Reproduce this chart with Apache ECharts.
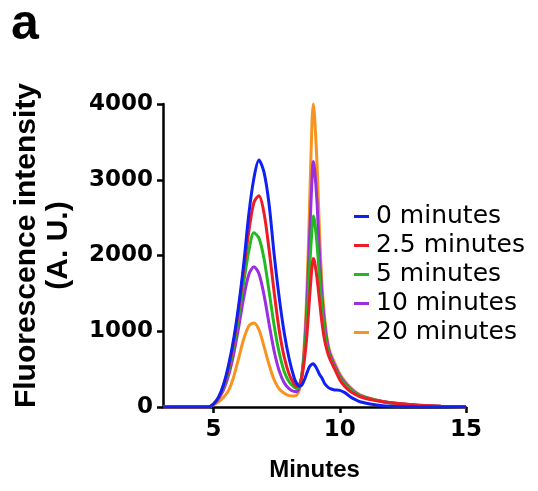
<!DOCTYPE html>
<html>
<head>
<meta charset="utf-8">
<script src="https://cdn.jsdelivr.net/npm/echarts@6/dist/echarts.min.js"></script>
<style>
  html, body { margin: 0; padding: 0; background: #fff; }
  #chart { width: 538px; height: 491px; }
</style>
</head>
<body>
<div id="chart"></div>
<script>
// x positions (minutes)
const minutes = [3, 4, 4.8, 5.0, 5.2, 5.4, 5.6, 5.8, 6.0, 6.2, 6.4, 6.6, 6.8, 7.0, 7.2, 7.4, 7.6, 7.8, 8.0, 8.2,
  8.3, 8.4, 8.5, 8.6, 8.7, 8.8, 8.9, 8.95, 9.0, 9.1, 9.2, 9.3, 9.4, 9.5, 9.6,
  9.8, 10.0, 10.2, 10.4, 10.6, 10.8, 11.2, 11.6, 12, 13, 14, 15];

// fluorescence per incubation time
const min0 = [0, 0, 0, 40, 130, 300, 560, 900, 1350, 1900, 2550, 3020, 3260, 3100, 2680, 2020, 1450, 980, 630, 380,
  310, 275, 290, 360, 450, 530, 565, 570, 555, 500, 430, 380, 310, 270, 245,
  225, 220, 190, 140, 100, 70, 40, 20, 10, 3, 0, 0];
const min2_5 = [0, 0, 0, 40, 125, 280, 520, 860, 1300, 1820, 2320, 2700, 2790, 2560, 2080, 1520, 1020, 660, 430, 300,
  270, 290, 400, 620, 950, 1420, 1850, 1960, 1920, 1700, 1400, 1100, 880, 740, 640,
  500, 360, 270, 210, 170, 135, 100, 75, 55, 25, 10, 0];
const min5 = [0, 0, 0, 38, 120, 260, 480, 800, 1200, 1650, 2060, 2300, 2230, 1960, 1530, 1080, 720, 470, 330, 260,
  245, 280, 420, 700, 1150, 1800, 2350, 2520, 2460, 2150, 1700, 1300, 1000, 800, 670,
  520, 390, 300, 235, 185, 145, 105, 75, 52, 22, 9, 0];
const min10 = [0, 0, 0, 35, 110, 230, 420, 700, 1060, 1450, 1750, 1850, 1760, 1480, 1100, 740, 480, 320, 240, 205,
  205, 260, 420, 750, 1350, 2200, 3000, 3240, 3150, 2700, 2000, 1450, 1100, 860, 710,
  550, 415, 320, 250, 195, 155, 110, 78, 55, 24, 10, 0];
const min20 = [0, 0, 0, 30, 70, 130, 220, 400, 650, 900, 1070, 1110, 1020, 800, 560, 360, 240, 180, 150, 145,
  160, 230, 420, 850, 1550, 2600, 3750, 4000, 3850, 3200, 2300, 1600, 1180, 900, 740,
  580, 440, 340, 265, 205, 160, 115, 80, 58, 26, 11, 0];

const seriesNames = ['0 minutes', '2.5 minutes', '5 minutes', '10 minutes', '20 minutes'];
const seriesData = [min0, min2_5, min5, min10, min20];
const colors = ['#1020f5', '#ee1c24', '#22b922', '#9b2ee0', '#f7931e'];
const xTicks = [5, 10, 15];

const chart = echarts.init(document.getElementById('chart'));

const pairs = (vals) => minutes.map((m, i) => [m, vals[i]]);

// draw orange first so blue sits on top
const series = [4, 3, 2, 1, 0].map((i) => ({
  name: seriesNames[i],
  type: 'line',
  data: pairs(seriesData[i]),
  smooth: 0.3,
  showSymbol: false,
  symbol: 'none',
  lineStyle: { width: 3, color: colors[i] },
  itemStyle: { color: colors[i] },
}));

const option = {
  animation: false,
  backgroundColor: '#fff',
  grid: {
    left: 163,
    right: 72,
    top: 104,
    bottom: 84,
    containLabel: false,
    outerBoundsMode: 'none',
  },
  legend: {
    data: seriesNames,
    orient: 'vertical',
    left: 354,
    top: 203,
    icon: 'rect',
    itemWidth: 15,
    itemHeight: 3,
    itemGap: 2,
    padding: 0,
    textStyle: {
      fontFamily: 'DejaVu Sans',
      fontSize: 25,
      lineHeight: 27,
      color: '#000',
      padding: [0, 0, 0, 2],
    },
  },
  graphic: [
    {
      type: 'text',
      left: 11,
      top: 0,
      style: {
        text: 'a',
        font: 'bold 50px "Liberation Sans"',
        fill: '#000',
      },
    },
  ],
  xAxis: {
    type: 'value',
    min: 3,
    max: 15,
    name: 'Minutes',
    nameLocation: 'middle',
    nameGap: 51,
    nameTextStyle: {
      fontFamily: 'Liberation Sans',
      fontWeight: 'bold',
      fontSize: 24,
      color: '#000',
    },
    axisLine: { onZero: false, lineStyle: { color: '#000', width: 2.5 } },
    axisTick: { customValues: xTicks, length: 6, lineStyle: { color: '#000', width: 2.5 } },
    axisLabel: {
      customValues: xTicks,
      margin: 12,
      fontFamily: 'DejaVu Sans',
      fontWeight: 'bold',
      fontSize: 23,
      color: '#000',
    },
    splitLine: { show: false },
  },
  yAxis: {
    type: 'value',
    min: 0,
    max: 4000,
    interval: 1000,
    name: 'Fluorescence intensity\n(A. U.)',
    nameLocation: 'middle',
    nameRotate: 90,
    nameGap: 88,
    nameTextStyle: {
      fontFamily: 'Liberation Sans',
      fontWeight: 'bold',
      fontSize: 30,
      lineHeight: 32,
      color: '#000',
      padding: [0, 0, 0, 20],
    },
    axisLine: { show: true, lineStyle: { color: '#000', width: 2.5 } },
    axisTick: { show: true, length: 6, lineStyle: { color: '#000', width: 2.5 } },
    axisLabel: {
      margin: 10,
      formatter: (v) => String(v),
      fontFamily: 'DejaVu Sans',
      fontWeight: 'bold',
      fontSize: 23,
      color: '#000',
    },
    splitLine: { show: false },
  },
  series: series,
};

chart.setOption(option);
</script>
</body>
</html>
